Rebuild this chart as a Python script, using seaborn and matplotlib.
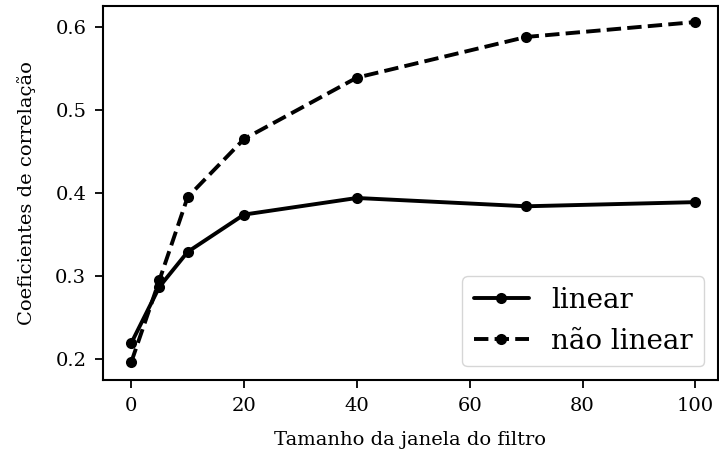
import pandas as pd
import matplotlib
matplotlib.use("Agg")
import matplotlib.pyplot as plt
import seaborn as sns

# Dados
janela = [0, 5, 10, 20, 40, 70, 100]
linear = [0.219, 0.287, 0.329, 0.374, 0.394, 0.384, 0.389]
nao_linear = [0.196, 0.295, 0.395, 0.465, 0.539, 0.588, 0.606]

df = pd.DataFrame({
    "janela": janela * 2,
    "coef": linear + nao_linear,
    "tipo": ["linear"] * len(janela) + ["não linear"] * len(janela),
})

sns.set_style("ticks")
plt.rcParams["font.family"] = ["DejaVu Serif"]
plt.rcParams["text.color"] = "black"
plt.rcParams["axes.labelcolor"] = "black"
plt.rcParams["xtick.color"] = "black"
plt.rcParams["ytick.color"] = "black"

fig, ax = plt.subplots(figsize=(7.19, 4.59), dpi=100)
fig.subplots_adjust(left=103/719, right=718/719, top=1-6/459, bottom=1-380/459)

sns.lineplot(data=df, x="janela", y="coef", style="tipo", color="black",
             markers={"linear": "o", "não linear": "o"},
             dashes={"linear": "", "não linear": (3.7, 1.6)},
             linewidth=2.8, markersize=8, markeredgewidth=0, ax=ax)

ax.set_xlim(-5, 104)
ax.set_ylim(0.1747, 0.6253)
ax.set_xticks([0, 20, 40, 60, 80, 100])
ax.set_yticks([0.2, 0.3, 0.4, 0.5, 0.6])
ax.tick_params(labelsize=14, width=1.3, length=6, pad=6)
for s in ax.spines.values():
    s.set_linewidth(1.5)
    s.set_color("black")

ax.set_xlabel("Tamanho da janela do filtro", fontsize=14, labelpad=12)
ax.set_ylabel("Coeficientes de correlação", fontsize=14, labelpad=14)

leg = ax.legend(title=None, loc="lower right", fontsize=20, frameon=True,
                handlelength=2, borderpad=0.4)
leg.get_frame().set_edgecolor("#cccccc")

fig.savefig("out.png", dpi=100)
